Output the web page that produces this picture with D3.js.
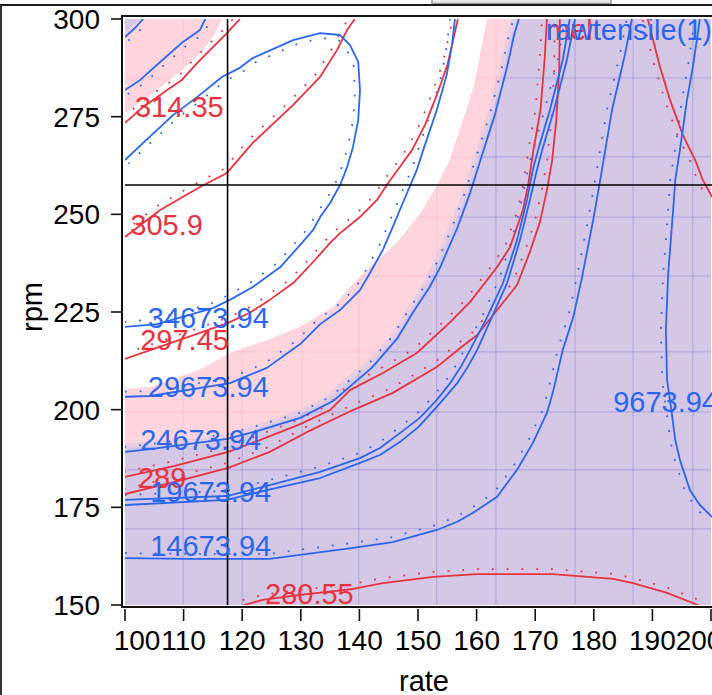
<!DOCTYPE html>
<html>
<head>
<meta charset="utf-8">
<script src="https://cdn.jsdelivr.net/npm/d3@7"></script>
<style>
  body { margin: 0; background: #fff; overflow: hidden; }
  svg { display: block; }
  text { font-family: "Liberation Sans", Arial, sans-serif; }
</style>
</head>
<body>
<svg id="chart" width="712" height="695"></svg>
<script>
// axis ticks
var rateTicks = [100, 110, 120, 130, 140, 150, 160, 170, 180, 190, 200];
var rpmTicks = [150, 175, 200, 225, 250, 275, 300];

// current settings (crosshair)
var rateNow = 117.5;
var rpmNow = 257.5;

// contour lines, [rate, rpm]
// melt (red)
var melt314 = [[100,273.4],[103.1,277.5],[107.2,281.8],[109.7,284.4],[112.3,288.7],[115,292.8],[117.4,296.4],[119.6,300]];
var melt306 = [[100,244.2],[106,251.1],[112.8,257],[117.4,260.6],[121.8,268.3],[128.7,278],[133.3,285.2],[136.2,292.1],[137.9,297.2],[139.2,300]];
var melt297 = [[100,213],[103.8,215],[112.3,219.4],[117.6,222.2],[121.3,224.8],[124.7,228.1],[128.7,232.4],[132.1,237.8],[135,242.7],[136.7,245.2],[140.1,249.3],[143,253.7],[144.9,258],[146.9,262.1],[149,266.5],[151.2,272.9],[153.2,280.5],[155,288.2],[156,294.6],[156.8,300]];
var melt289a = [[100,182.8],[108.5,185.6],[117.6,189.2],[123,192.2],[129.9,196.3],[135,199.9],[138.4,205],[144,209.4],[149.8,214.5],[155.5,222.4],[158.9,227.6],[163.5,236.5],[165.7,241.6],[167.9,251.1],[168.8,257.5],[169.7,266.5],[170.9,276.7],[171.6,289.5],[172,300]];
var melt289b = [[100,178.4],[108.5,181.5],[117.6,185.1],[124.7,189.2],[131.1,194.3],[138.9,199.9],[145.7,204.3],[153.2,210.9],[157.2,215.8],[160.1,219.1],[163.5,225.5],[166.9,231.9],[169.1,240.4],[170.8,248],[172,256.2],[172.9,263.9],[173.6,274.1],[174.1,286.9],[174.2,300]];
var meltRight = [[189.2,300],[191.3,287.7],[193,279.3],[195.2,270.3],[197.3,263.9],[198.6,258.8],[200.2,254.4]];
var melt281 = [[120.3,150],[123.5,151.3],[129.9,152.6],[138.9,154.1],[144,155.6],[152.6,157.2],[160.1,157.9],[173,157.9],[183.3,156.7],[186.7,155.6],[192.5,153.1],[197.8,150]];

// rawtensile (blue)
var ten44 = [[100,295.4],[101.7,297.7],[103.1,300]];
var ten39 = [[100,281.8],[102.6,284.4],[106,289],[109.7,293.9],[112.8,297.2],[113.7,300]];
var ten34 = [[100,221.2],[105.5,221.9],[115,226],[117.9,228.1],[121.8,231.4],[126.5,236.5],[129.9,242.2],[132.1,246],[133.3,249.3],[135,252.9],[136.7,257.5],[137.9,262.1],[138.9,267.2],[139.8,274.1],[140.1,281.8],[139.8,289],[138.4,293.3],[136.7,295.9],[133.3,296.4],[128.7,294.6],[121.8,290],[119.6,287.5],[116.6,285.2],[112.3,280],[108.2,275.4],[103.1,268.3],[100,263.9]];
var ten29 = [[100,203.3],[104.3,203.5],[117.9,206.8],[124.2,210.7],[129.9,216.8],[133.3,221.9],[136.7,225.5],[140.1,230.6],[141.8,235],[144,240.9],[145.7,246.8],[147.4,252.9],[149.8,261.4],[150.9,266.5],[153.2,276.7],[154.9,285.7],[155.8,293.3],[156.3,300]];
var ten24 = [[100,189.2],[104.3,189.9],[117.4,192.5],[122.5,194.5],[129.9,197.9],[135.5,202.2],[138.9,206.6],[142.1,210.7],[146.4,218.1],[149.1,224.8],[152,231.4],[153.8,236.5],[156.7,246.5],[158.9,255.5],[161.1,266],[163.1,275.4],[165.2,287.7],[166.4,295.9],[167.2,300]];
var ten19a = [[100,176.9],[117.4,177.9],[124.2,180.5],[133.3,184.1],[140.1,187.6],[143.5,190.2],[146.9,194],[150.3,197.9],[153.2,202.5],[155.5,206.8],[157.2,210.7],[158.9,215.3],[161.8,223.7],[164.5,232.4],[166.9,243.4],[168.6,253.7],[169.6,261.4],[170.5,266.5],[172.5,276.7],[174.7,289.5],[175.9,300]];
var ten19b = [[100,175.6],[117.4,176.9],[124.2,179.4],[133.3,182.5],[140.1,186.4],[143.5,188.4],[146.9,191.7],[150.1,195.6],[153.2,200.7],[156.7,206.8],[158.4,210.7],[160.1,215.3],[162.6,223.7],[165.2,232.4],[167.4,243.4],[169.1,253.7],[170.3,261.4],[171.2,266.5],[173.2,276.7],[175.4,289.5],[176.8,300]];
var ten14 = [[100,162],[110.6,161.8],[124.7,161.8],[132.1,163.3],[138.9,164.6],[145.7,166.1],[153.2,169.2],[156.7,171.3],[159.4,173.6],[163.5,177.7],[166.9,184.6],[169.6,191.5],[172,199.2],[173,204.3],[174.7,215.3],[176.5,223.7],[178,234],[179.9,248.6],[181.1,258.8],[183.1,276.7],[185.3,290.8],[186.5,300]];
var ten9 = [[198.1,300],[196.9,287.7],[195.9,279.3],[194.7,266.5],[193.9,258.8],[193.5,250.3],[192.7,235],[192.3,220.4],[192.5,207.6],[193.3,199.2],[193.9,192.2],[194.7,187.1],[196.4,179.4],[198.1,175.6],[200.2,172.5]];

// shaded (out of limit) areas, edges
var meltShadeCorner = [[100,275.9],[103.8,280],[106.5,283.1],[109.7,286.9],[112.8,291.3],[115,295.4],[116.6,300],[100,300]];
var meltShadeEdge = [[100,205.3],[104.3,205.8],[112.8,210.2],[117.9,214.5],[124.2,217.8],[129.9,221.2],[135.5,226.3],[138.4,231.4],[141.8,236.5],[146.4,242.7],[150.4,250.3],[153.2,257.3],[155.4,263.9],[157.4,272.9],[159.6,283.1],[160.9,293.3],[161.8,300]];
var tenShadeCorner = [[100,300],[102.6,300],[100,296.4]];
var tenShadeEdge = [[100,190.2],[116.2,192],[123,195.3],[129.9,198.9],[134.5,202.2],[138.4,207.6],[141.8,211.4],[146.1,218.6],[148.8,225.3],[151.5,231.9],[153.2,237],[156.1,246.8],[158.4,255.7],[160.6,266],[162.6,275.4],[164.7,287.7],[165.9,295.9],[166.7,300]];

// seams of the fill mesh
var meshRate = [109.9, 120, 130.2, 139.9, 153.2, 163.3, 176.8, 186.7, 196.9];
var meshRpm = [284.9, 264.7, 249.3, 234.2, 214.8, 199.4, 184.6, 169.5];

var red = "#e8333f";
var blue = "#2c66ee";
var pink = "#ffd5dd";
var lavender = "#d5c8e6";

// contour list with drawing side for the little dots (1 left, -1 right, 0 none)
var contours = [
  { pts: melt314, color: red, side: 1 },
  { pts: melt306, color: red, side: 1 },
  { pts: melt297, color: red, side: 1 },
  { pts: melt289a, color: red, side: 1 },
  { pts: melt289b, color: red, side: 1 },
  { pts: meltRight, color: red, side: -1 },
  { pts: melt281, color: red, side: 1 },
  { pts: ten44, color: blue, side: -1 },
  { pts: ten39, color: blue, side: -1 },
  { pts: ten34, color: blue, side: 1 },
  { pts: ten29, color: blue, side: 1 },
  { pts: ten24, color: blue, side: 1 },
  { pts: ten19a, color: blue, side: 1 },
  { pts: ten19b, color: blue, side: 0 },
  { pts: ten14, color: blue, side: 1 },
  { pts: ten9, color: blue, side: -1 }
];

var labels = [
  { text: "314.35", rate: 101.7, rpm: 274.9, color: red },
  { text: "305.9", rate: 100.9, rpm: 244.7, color: red },
  { text: "34673.94", rate: 103.9, rpm: 220.9, color: blue },
  { text: "297.45", rate: 102.6, rpm: 215.3, color: red },
  { text: "29673.94", rate: 103.9, rpm: 203.3, color: blue },
  { text: "24673.94", rate: 102.6, rpm: 189.7, color: blue },
  { text: "289", rate: 102.2, rpm: 180.0, color: red },
  { text: "19673.94", rate: 104.3, rpm: 176.4, color: blue },
  { text: "14673.94", rate: 104.3, rpm: 162.6, color: blue },
  { text: "280.55", rate: 123.9, rpm: 150.3, color: red },
  { text: "9673.94", rate: 183.3, rpm: 199.4, color: blue }
];

var svg = d3.select("#chart");
var x = d3.scaleLinear().domain([100, 200]).range([125, 711]);
var y = d3.scaleLinear().domain([150, 300]).range([605, 19]);

var line = d3.line().x(d => x(d[0])).y(d => y(d[1]));
function area(edge) {
  // edge + the far corners of the plot closes the shaded part
  return line(edge.concat([[200, 300], [200, 150], [100, 150]])) + "Z";
}

// window bits round the plot
svg.append("rect").attr("x", 432).attr("y", -6).attr("width", 179).attr("height", 9.5)
  .attr("fill", "#e9e9e9").attr("stroke", "#9a9a9a").attr("stroke-width", 1.5);
svg.append("line").attr("x1", 0).attr("x2", 712).attr("y1", 5).attr("y2", 5)
  .attr("stroke", "#1a1a1a").attr("stroke-width", 2);
svg.append("line").attr("x1", 1).attr("x2", 1).attr("y1", 5).attr("y2", 695)
  .attr("stroke", "#333").attr("stroke-width", 2);

var defs = svg.append("defs");
defs.append("clipPath").attr("id", "plotClip").append("rect")
  .attr("x", 125).attr("y", 19).attr("width", 600).attr("height", 586);
defs.append("clipPath").attr("id", "pinkClip").append("path")
  .attr("d", area(meltShadeEdge) + " " + line(meltShadeCorner) + "Z");
defs.append("clipPath").attr("id", "lavClip").append("path")
  .attr("d", area(tenShadeEdge) + " " + line(tenShadeCorner) + "Z");

var plot = svg.append("g").attr("clip-path", "url(#plotClip)");

// red shading
plot.append("path").attr("d", area(meltShadeEdge)).attr("fill", pink);
plot.append("path").attr("d", line(meltShadeCorner) + "Z").attr("fill", pink);

function mesh(g, color, op) {
  g.selectAll(".mv").data(meshRate).enter().append("line")
    .attr("x1", d => x(d)).attr("x2", d => x(d)).attr("y1", 19).attr("y2", 605)
    .attr("stroke", color).attr("stroke-opacity", op).attr("stroke-width", 1);
  g.selectAll(".mh").data(meshRpm).enter().append("line")
    .attr("x1", 125).attr("x2", 712).attr("y1", d => y(d)).attr("y2", d => y(d))
    .attr("stroke", color).attr("stroke-opacity", op).attr("stroke-width", 1);
}
mesh(plot.append("g").attr("clip-path", "url(#pinkClip)"), "#f29aae", 0.3);

// blue shading (soft rim first)
plot.append("path").attr("d", line(tenShadeEdge)).attr("fill", "none")
  .attr("stroke", lavender).attr("stroke-opacity", 0.55).attr("stroke-width", 9);
plot.append("path").attr("d", area(tenShadeEdge)).attr("fill", lavender);
plot.append("path").attr("d", line(tenShadeCorner) + "Z").attr("fill", lavender);
mesh(plot.append("g").attr("clip-path", "url(#lavClip)"), "#6e68d2", 0.4);

// dotted companions of the contours
function offsetPts(pts, dist) {
  var p = pts.map(d => [x(d[0]), y(d[1])]);
  return p.map((q, i) => {
    var a = p[Math.max(0, i - 1)], b = p[Math.min(p.length - 1, i + 1)];
    var tx = b[0] - a[0], ty = b[1] - a[1];
    var len = Math.sqrt(tx * tx + ty * ty) || 1;
    return [q[0] + ty / len * dist, q[1] - tx / len * dist];
  });
}
var pxLine = d3.line();
plot.selectAll(".dots").data(contours.filter(c => c.side !== 0)).enter().append("path")
  .attr("d", c => pxLine(offsetPts(c.pts, 5 * c.side)))
  .attr("fill", "none").attr("stroke", c => c.color)
  .attr("stroke-width", 1.8).attr("stroke-dasharray", "1.8 13");

// contour lines
plot.selectAll(".contour").data(contours).enter().append("path")
  .attr("d", c => line(c.pts))
  .attr("fill", "none").attr("stroke", c => c.color)
  .attr("stroke-width", 1.8).attr("stroke-linejoin", "round");

// crosshair
plot.append("line").attr("x1", x(rateNow)).attr("x2", x(rateNow)).attr("y1", 17).attr("y2", 606)
  .attr("stroke", "#000").attr("stroke-width", 1.6);
plot.append("line").attr("x1", 123).attr("x2", 712).attr("y1", y(rpmNow)).attr("y2", y(rpmNow))
  .attr("stroke", "#000").attr("stroke-width", 1.6);

// contour labels
plot.selectAll(".lab").data(labels).enter().append("text")
  .attr("x", d => x(d.rate)).attr("y", d => y(d.rpm))
  .attr("font-size", 29).attr("fill", d => d.color).text(d => d.text);

// response names
plot.append("text").attr("x", 546).attr("y", 40).attr("font-size", 29).attr("fill", red).text("melt");
plot.append("text").attr("x", 546).attr("y", 40).attr("font-size", 29).attr("fill", blue).text("rawtensile(1)");

// frame
svg.append("rect").attr("x", 122).attr("y", 16).attr("width", 640).attr("height", 591)
  .attr("fill", "none").attr("stroke", "#111").attr("stroke-width", 2);

// y axis
svg.selectAll(".yt").data(rpmTicks).enter().append("line")
  .attr("x1", 111).attr("x2", 122).attr("y1", d => y(d)).attr("y2", d => y(d))
  .attr("stroke", "#111").attr("stroke-width", 1.6);
svg.selectAll(".yl").data(rpmTicks).enter().append("text")
  .attr("x", 100).attr("y", d => y(d) + 10).attr("text-anchor", "end")
  .attr("font-size", 28).attr("fill", "#000").text(d => d);

// x axis
svg.selectAll(".xt").data(rateTicks).enter().append("line")
  .attr("x1", d => x(d)).attr("x2", d => x(d)).attr("y1", 609).attr("y2", 621)
  .attr("stroke", "#111").attr("stroke-width", 1.6);
svg.selectAll(".xl").data(rateTicks).enter().append("text")
  .attr("x", (d, i) => x(d) + (i === 0 ? 12 : i === rateTicks.length - 1 ? -12 : 0))
  .attr("y", 650).attr("text-anchor", "middle")
  .attr("font-size", 28).attr("fill", "#000").text(d => d);

svg.append("text").attr("x", 424).attr("y", 691).attr("text-anchor", "middle")
  .attr("font-size", 29).attr("fill", "#000").text("rate");
svg.append("text").attr("transform", "translate(42,307) rotate(-90)").attr("text-anchor", "middle")
  .attr("font-size", 29).attr("fill", "#000").text("rpm");
</script>
</body>
</html>
